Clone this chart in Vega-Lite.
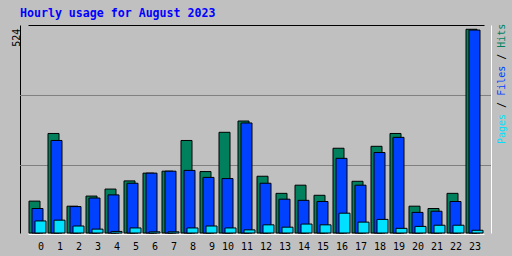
{
  "$schema": "https://vega.github.io/schema/vega-lite/v6.json",
  "width": 471,
  "height": 208,
  "autosize": "none",
  "padding": {"left": 20, "top": 25, "right": 21, "bottom": 23},
  "background": "#C0C0C0",
  "config": {"view": {"stroke": null}, "font": "DejaVu Sans Mono"},
  "title": {
    "text": "Hourly usage for August 2023",
    "anchor": "start",
    "frame": "group",
    "font": "DejaVu Sans Mono",
    "fontSize": 11.6,
    "fontWeight": "bold",
    "color": "#0000FF",
    "baseline": "alphabetic",
    "offset": 6,
    "dy": 11
  },
  "data": {
    "values": [
      {"hour": 0, "hits": 82, "files": 63, "pages": 31},
      {"hour": 1, "hits": 256, "files": 238, "pages": 33},
      {"hour": 2, "hits": 69, "files": 68, "pages": 18},
      {"hour": 3, "hits": 95, "files": 90, "pages": 10},
      {"hour": 4, "hits": 113, "files": 98, "pages": 4},
      {"hour": 5, "hits": 134, "files": 128, "pages": 13},
      {"hour": 6, "hits": 154, "files": 154, "pages": 3},
      {"hour": 7, "hits": 159, "files": 159, "pages": 3},
      {"hour": 8, "hits": 238, "files": 161, "pages": 13},
      {"hour": 9, "hits": 158, "files": 143, "pages": 18},
      {"hour": 10, "hits": 259, "files": 140, "pages": 13},
      {"hour": 11, "hits": 288, "files": 283, "pages": 8},
      {"hour": 12, "hits": 146, "files": 128, "pages": 21},
      {"hour": 13, "hits": 102, "files": 87, "pages": 15},
      {"hour": 14, "hits": 123, "files": 84, "pages": 23},
      {"hour": 15, "hits": 97, "files": 81, "pages": 21},
      {"hour": 16, "hits": 218, "files": 192, "pages": 51},
      {"hour": 17, "hits": 133, "files": 123, "pages": 28},
      {"hour": 18, "hits": 223, "files": 207, "pages": 35},
      {"hour": 19, "hits": 256, "files": 246, "pages": 12},
      {"hour": 20, "hits": 69, "files": 53, "pages": 17},
      {"hour": 21, "hits": 63, "files": 56, "pages": 20},
      {"hour": 22, "hits": 102, "files": 81, "pages": 20},
      {"hour": 23, "hits": 524, "files": 522, "pages": 7}
    ]
  },
  "layer": [
    {
      "data": {"values": [{"grid": 173.6}, {"grid": 353.7}]},
      "mark": {"type": "rule", "color": "#808080", "strokeWidth": 1},
      "encoding": {
        "y": {"field": "grid", "type": "quantitative", "scale": {"domain": [0, 535], "nice": false, "zero": true}, "axis": null}
      }
    },
    {
      "mark": {"type": "bar", "size": 11, "xOffset": -3, "fill": "#00805C", "stroke": "black", "strokeWidth": 1},
      "encoding": {
        "x": {
          "field": "hour", "type": "ordinal",
          "scale": {"range": [8, 464], "paddingInner": 0, "paddingOuter": 0},
          "axis": {
            "orient": "bottom", "title": null, "ticks": false, "tickSize": 0, "grid": false,
            "domainColor": "white", "domainWidth": 1, "offset": 1,
            "labelAngle": 0, "labelAlign": "right", "labelOffset": 6.5, "labelPadding": 15,
            "labelBaseline": "alphabetic", "labelFont": "DejaVu Sans Mono", "labelFontSize": 10, "labelColor": "black"
          }
        },
        "y": {
          "field": "hits", "type": "quantitative",
          "scale": {"domain": [0, 535], "nice": false, "zero": true},
          "axis": {
            "orient": "left", "title": null, "values": [524], "ticks": false, "tickSize": 0, "grid": false,
            "domainColor": "black", "domainWidth": 1,
            "labelAngle": -90, "labelAlign": "right", "labelBaseline": "alphabetic", "labelPadding": 1, "labelOffset": -1,
            "labelFlush": false, "labelOverlap": false, "labelBound": false,
            "labelFont": "DejaVu Sans Mono", "labelFontSize": 10, "labelColor": "black"
          }
        }
      }
    },
    {
      "mark": {"type": "bar", "size": 11, "xOffset": 0, "fill": "#0040FF", "stroke": "black", "strokeWidth": 1},
      "encoding": {
        "x": {
          "field": "hour", "type": "ordinal",
          "axis": {"orient": "top", "title": null, "labels": false, "ticks": false, "tickSize": 0, "grid": false, "domainColor": "black", "domainWidth": 1}
        },
        "y": {
          "field": "files", "type": "quantitative",
          "axis": {"orient": "right", "title": null, "labels": false, "ticks": false, "tickSize": 0, "grid": false, "domainColor": "white", "domainWidth": 1}
        }
      }
    },
    {
      "mark": {"type": "bar", "size": 11, "xOffset": 3, "fill": "#00E0FF", "stroke": "black", "strokeWidth": 1},
      "encoding": {
        "x": {"field": "hour", "type": "ordinal", "axis": null},
        "y": {"field": "pages", "type": "quantitative", "axis": null}
      }
    },
    {
      "data": {"values": [{}]},
      "mark": {"type": "text", "text": "Pages", "angle": 270, "align": "left", "baseline": "alphabetic", "x": {"expr": "width + 14"}, "y": 119, "font": "DejaVu Sans Mono", "fontSize": 10, "color": "#00E0FF"},
      "encoding": {}
    },
    {
      "data": {"values": [{}]},
      "mark": {"type": "text", "text": "/", "angle": 270, "align": "left", "baseline": "alphabetic", "x": {"expr": "width + 14"}, "y": 82.9, "font": "DejaVu Sans Mono", "fontSize": 10, "color": "black"},
      "encoding": {}
    },
    {
      "data": {"values": [{}]},
      "mark": {"type": "text", "text": "Files", "angle": 270, "align": "left", "baseline": "alphabetic", "x": {"expr": "width + 14"}, "y": 70.8, "font": "DejaVu Sans Mono", "fontSize": 10, "color": "#0040FF"},
      "encoding": {}
    },
    {
      "data": {"values": [{}]},
      "mark": {"type": "text", "text": "/", "angle": 270, "align": "left", "baseline": "alphabetic", "x": {"expr": "width + 14"}, "y": 34.7, "font": "DejaVu Sans Mono", "fontSize": 10, "color": "black"},
      "encoding": {}
    },
    {
      "data": {"values": [{}]},
      "mark": {"type": "text", "text": "Hits", "angle": 270, "align": "left", "baseline": "alphabetic", "x": {"expr": "width + 14"}, "y": 22.7, "font": "DejaVu Sans Mono", "fontSize": 10, "color": "#00805C"},
      "encoding": {}
    }
  ],
  "resolve": {"axis": {"x": "independent", "y": "independent"}}
}
